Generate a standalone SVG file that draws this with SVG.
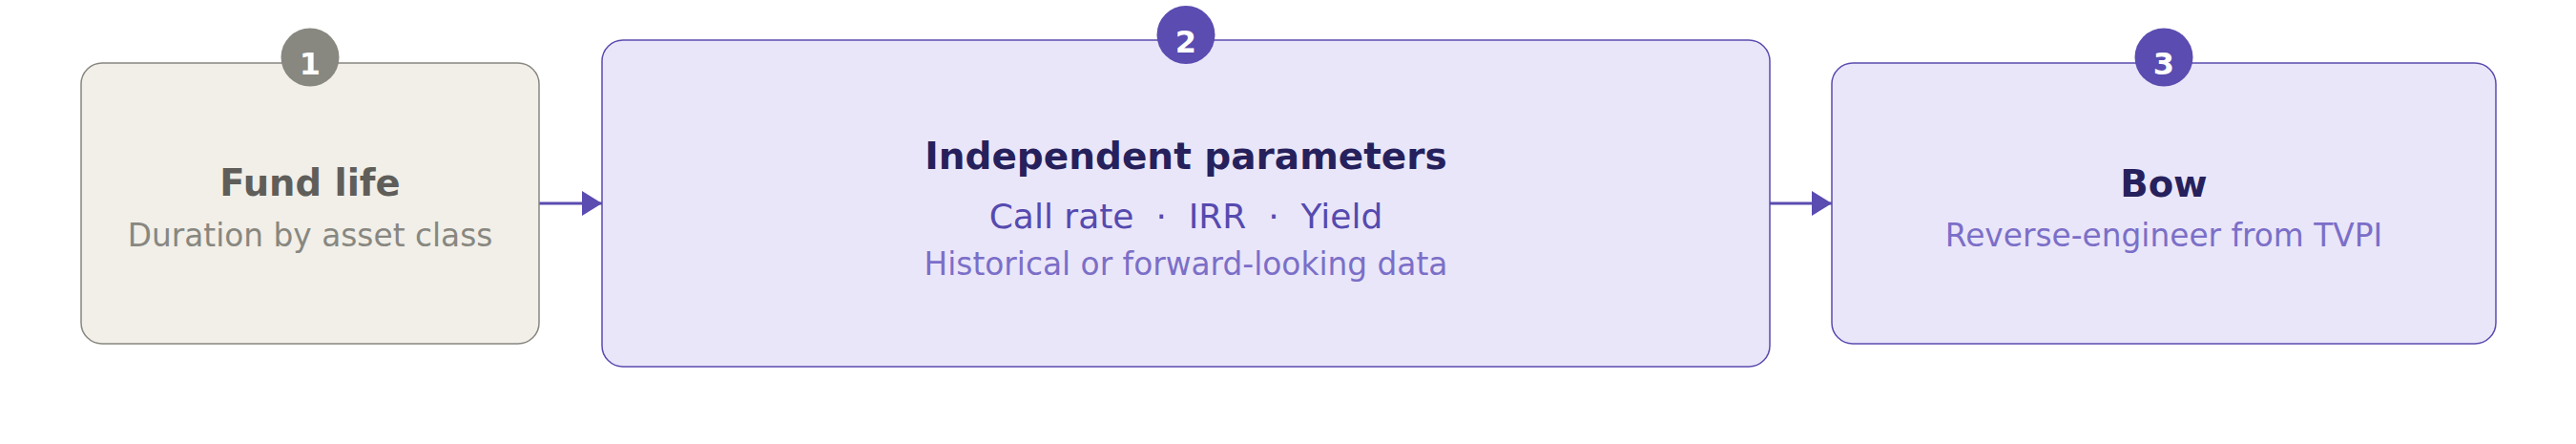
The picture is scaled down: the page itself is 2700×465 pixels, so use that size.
<svg xmlns="http://www.w3.org/2000/svg" width="2700" height="465" viewBox="0 0 2700 465">
<style>
text{font-family:"DejaVu Sans","Liberation Sans",sans-serif;text-anchor:middle}
.title{font-weight:bold}
.badge{font-weight:bold;font-size:32px;fill:#ffffff}
.box-g{fill:#F1EFE8;stroke:#888780;stroke-width:1.5}
.box-p{fill:#EAE6F9;stroke:#5A4CB0;stroke-width:1.5}
.conn{stroke:#5A4CB0;stroke-width:3;fill:none}
</style>
<defs>
<marker id="arr" markerUnits="userSpaceOnUse" markerWidth="22" markerHeight="26" refX="21" refY="13" orient="auto" viewBox="0 0 22 26">
<path d="M0,0 L21,13 L0,26 Z" fill="#5A4CB0"/>
</marker>
</defs>
<g id="connectors">
<line class="conn" x1="565" y1="213" x2="631" y2="213" marker-end="url(#arr)"/>
<line class="conn" x1="1855" y1="213" x2="1920" y2="213" marker-end="url(#arr)"/>
</g>
<g id="node-fund-life">
<rect class="box-g" x="85" y="66" width="480" height="294" rx="22" ry="22"/>
<circle cx="325" cy="60" r="30.5" fill="#888780"/>
<text class="badge" x="325" y="78">1</text>
<text class="title" x="325" y="205" font-size="38.5" fill="#5F5E5A">Fund life</text>
<text x="325" y="257.5" font-size="32.8" fill="#888780">Duration by asset class</text>
</g>
<g id="node-independent-parameters">
<rect class="box-p" x="631" y="42" width="1224" height="342" rx="22" ry="22"/>
<circle cx="1243" cy="36.5" r="30.5" fill="#5A4CB0"/>
<text class="badge" x="1243" y="54.5">2</text>
<text class="title" x="1243" y="176.7" font-size="39" fill="#26215C">Independent parameters</text>
<text x="1243" y="239" font-size="36" fill="#554AAF" xml:space="preserve">Call rate  ·  IRR  ·  Yield</text>
<text x="1243" y="287.5" font-size="32.8" fill="#7B6FC8">Historical or forward-looking data</text>
</g>
<g id="node-bow">
<rect class="box-p" x="1920" y="66" width="696" height="294" rx="22" ry="22"/>
<circle cx="2268" cy="60" r="30.5" fill="#5A4CB0"/>
<text class="badge" x="2268" y="78">3</text>
<text class="title" x="2268" y="205.5" font-size="38.5" fill="#26215C">Bow</text>
<text x="2268" y="257.5" font-size="32.8" fill="#7B6FC8">Reverse-engineer from TVPI</text>
</g>
</svg>
